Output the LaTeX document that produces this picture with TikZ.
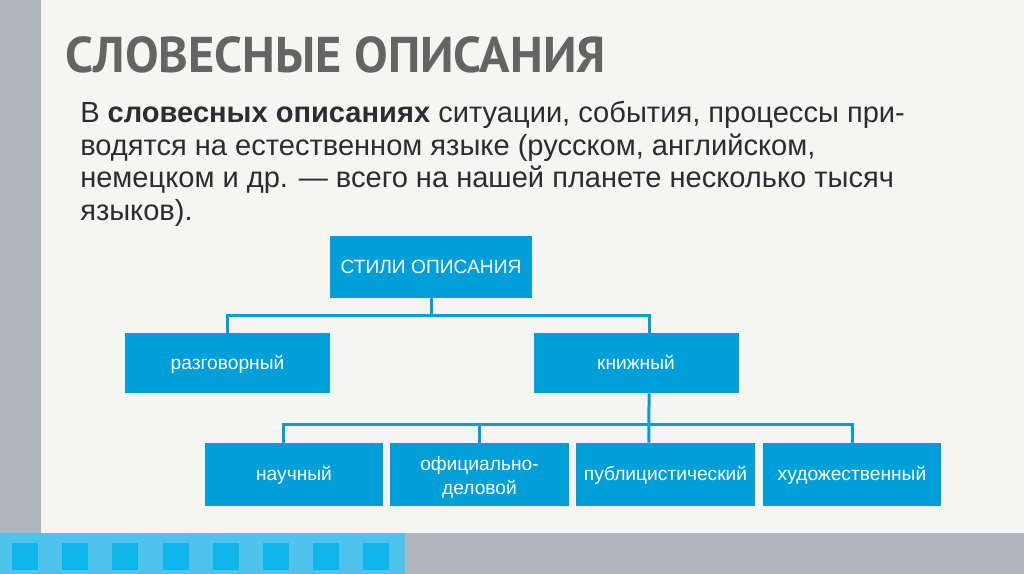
\documentclass[tikz,border=0pt]{standalone}
\usepackage{fontspec}
\setmainfont{Liberation Sans}
\newfontfamily\headfont{PT Sans}
\usepackage{tikz}
\usepackage{color}

\definecolor{paper}{RGB}{245,246,242}
\definecolor{bargray}{RGB}{176,182,192}
\definecolor{stripblue}{RGB}{79,195,236}
\definecolor{squareblue}{RGB}{13,181,234}
\definecolor{boxblue}{RGB}{0,159,217}
\definecolor{headgray}{RGB}{100,100,100}
\definecolor{bodyink}{RGB}{42,46,52}

\begin{document}
\begin{tikzpicture}[%
      x=0.75pt, y=-0.75pt,
      boxfill/.style={fill=boxblue, text=white, inner sep=0pt,
        font=\fontsize{14.4}{18}\selectfont},
      stylebox/.style={boxfill, minimum width=153.75pt, minimum height=45pt,
        text height=12.4pt, text depth=2.9pt},
      kindbox/.style={boxfill, minimum width=134pt, minimum height=47.25pt,
        text height=12.4pt, text depth=2.9pt},
      link/.style={draw=boxblue, line width=2.25pt},
      bodyline/.style={anchor=base west, inner sep=0pt, text=bodyink,
        font=\fontsize{21.8}{24}\selectfont},
      ]
      \useasboundingbox (0,0) rectangle (1024,574);
      \fill [color=paper] (0,0) rectangle (1024,574);
      \fill [color=bargray] (0,0) rectangle (41,533);
      \fill [color=stripblue] (0,533) rectangle (405,574);
      \fill [color=bargray] (405,533) rectangle (1024,574);
      \foreach \i in {0,...,7}
        \fill [color=squareblue] (12+50.2*\i,543) rectangle ++(26,27);

      \node [anchor=base west, inner sep=0pt, text=headgray,
        font=\headfont\bfseries\fontsize{37.7}{42}\selectfont] (title) at (65,73)
        {СЛОВЕСНЫЕ ОПИСАНИЯ};

      \node [bodyline] (line1) at (80,123)
        {В \textbf{словесных описаниях} ситуации, события, процессы при-};
      \node [bodyline] (line2) at (80,156)
        {водятся на естественном языке (русском, английском,};
      \node [bodyline] (line3) at (80,188)
        {немецком и др. — всего на нашей планете несколько тысяч};
      \node [bodyline] (line4) at (80,220)
        {языков).};

      \node [stylebox, minimum width=151.5pt, minimum height=46.5pt] (styles) at (431,267) {СТИЛИ ОПИСАНИЯ};
      \node [stylebox] (razg) at (227.5,363) {разговорный};
      \node [stylebox] (knig) at (636,363) {книжный};

      \node [kindbox] (nauch) at (294,474.5) {научный};
      \node [kindbox, align=center, text height=32pt, text depth=2pt] (ofic) at (479.5,474.5) {официально-\\деловой};
      \node [kindbox] (publ) at (665.5,474.5) {публицистический};
      \node [kindbox] (hud) at (852,474.5) {художественный};

      \coordinate (fork1) at (431,315);
      \coordinate (fork2) at (649,424);

      \draw [link] (styles.south) -- (fork1);
      \draw [link] (razg.north) |- (fork1) -| ([xshift=9.75pt]knig.north);
      \draw [link] ([xshift=9.75pt]knig.south) -- ([xshift=-12.4pt]publ.north);
      \draw [link] ([xshift=-8.25pt]nauch.north) |- (fork2) -| (hud.north);
      \draw [link] (ofic.north) -- (ofic.north |- fork2);
      \end{tikzpicture}
\end{document}
